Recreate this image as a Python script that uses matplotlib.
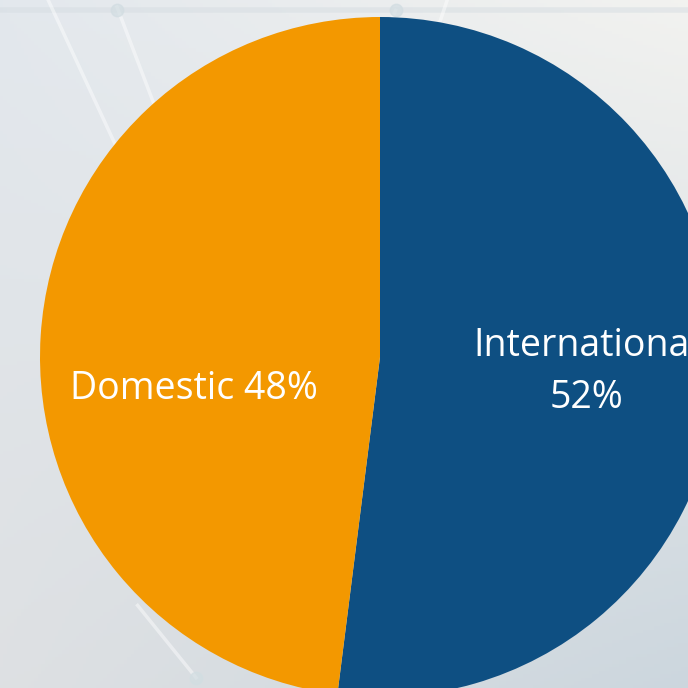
import numpy as np
import matplotlib.pyplot as plt

# data
categories = ['International', 'Domestic']
shares = [52, 48]
colors = ['#0E4F82', '#F39800']

plt.rcParams['font.family'] = ['Open Sans', 'DejaVu Sans']

fig = plt.figure(figsize=(6.88, 6.88), dpi=100)

# soft gradient background with faint network lines
bg = fig.add_axes([0, 0, 1, 1])
bg.set_axis_off()
yy, xx = np.mgrid[0:1:200j, 0:1:200j]
top_left = np.array([0.89, 0.91, 0.93])
top_right = np.array([0.95, 0.95, 0.94])
bot_left = np.array([0.87, 0.88, 0.89])
bot_right = np.array([0.80, 0.84, 0.87])
grad = ((1 - xx)[..., None] * (1 - yy)[..., None] * top_left
        + xx[..., None] * (1 - yy)[..., None] * top_right
        + (1 - xx)[..., None] * yy[..., None] * bot_left
        + xx[..., None] * yy[..., None] * bot_right)
bg.imshow(grad, extent=[0, 1, 0, 1], origin='upper', aspect='auto')
bg.plot([0, 1], [0.985, 0.985], color='#d6dde2', lw=4, alpha=0.5)
for (x0, y0), (x1, y1) in [((0.07, 1.0), (0.20, 0.72)), ((0.17, 0.99), (0.25, 0.78)),
                           ((0.575, 0.985), (0.53, 0.88)), ((0.65, 1.0), (0.61, 0.88)),
                           ((0.20, 0.12), (0.285, 0.015))]:
    bg.plot([x0, x1], [y0, y1], color='white', lw=2.5, alpha=0.45)
for x, y in [(0.17, 0.985), (0.575, 0.985), (0.285, 0.015)]:
    bg.plot(x, y, 'o', color='#d2dde2', ms=9, alpha=0.7)
bg.set_xlim(0, 1)
bg.set_ylim(0, 1)

# pie
ax = fig.add_axes([40 / 688, -9 / 688, 680 / 688, 680 / 688])
ax.pie(shares, colors=colors, startangle=90, counterclock=False,
       radius=1, wedgeprops=dict(linewidth=0))
ax.set_xlim(-1, 1)
ax.set_ylim(-1, 1)
ax.set_aspect('equal')
ax.set_axis_off()

ax.text(0.606, -0.044, f'{categories[0]}\n{shares[0]}%', color='white',
        fontsize=27, ha='center', va='center', linespacing=1.5)
ax.text(-0.547, -0.094, f'{categories[1]} {shares[1]}%', color='white',
        fontsize=27, ha='center', va='center')

fig.savefig('out.png', dpi=100)
